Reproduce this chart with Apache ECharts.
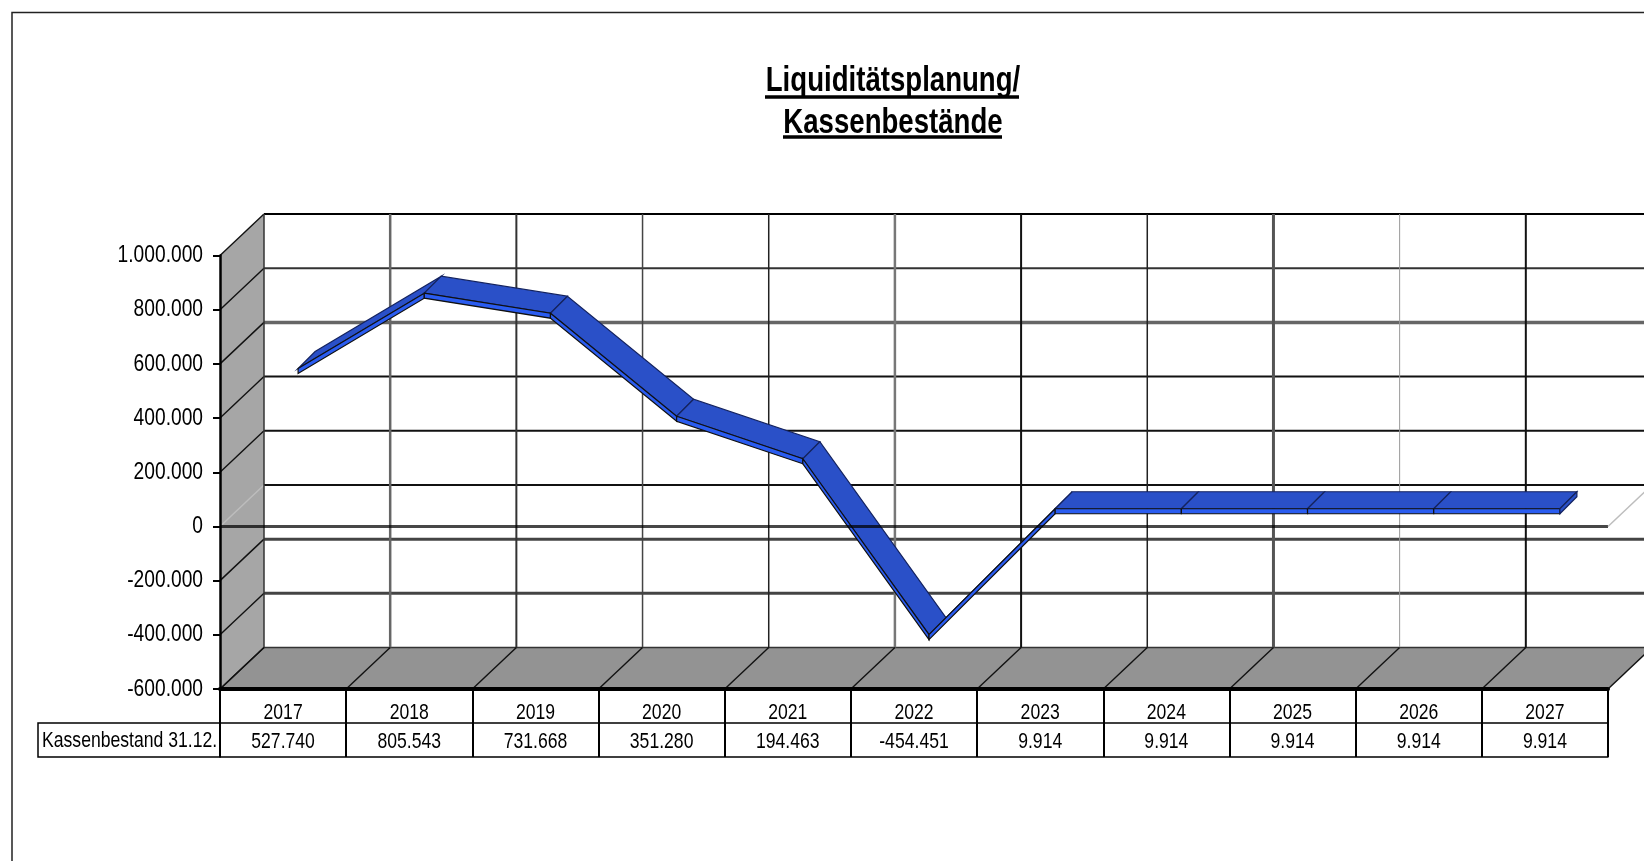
<!DOCTYPE html>
<html><head><meta charset="utf-8">
<style>html,body{margin:0;padding:0;background:#fff;overflow:hidden}#c{width:1644px;height:861px}</style>
<script src="https://cdn.jsdelivr.net/npm/echarts@6/dist/echarts.min.js"></script>
</head><body><div id="c"></div>
<script>
const years = ['2017','2018','2019','2020','2021','2022','2023','2024','2025','2026','2027'];
const kassenbestand = [527740,805543,731668,351280,194463,-454451,9914,9914,9914,9914,9914];
const yTicks = [1000000,800000,600000,400000,200000,0,-200000,-400000,-600000];
const rowLabel = 'Kassenbestand 31.12.';
const titleText = 'Liquiditätsplanung/\nKassenbestände';

const FONT = '"Liberation Sans",Arial,sans-serif';
const NARROW = 0.8;         // horizontal squeeze of all text
const DX = 44, DY = 41.5;   // wall depth in px
const RIB_F = 15, RIB_B = 32, RIB_T = 5;
// look of the back-wall lines, top to bottom / left to right
const hStyle = [['#000',2],['#333',2],['#666',3.5],['#111',2],['#111',2],['#111',2],['#444',3],['#444',3],['#333',1.5]];
const vStyle = [['#333',1.5],['#666',2.5],['#333',2],['#444',1.5],['#222',1.5],['#777',2.5],['#111',2],['#222',1.5],['#555',3],['#999',1],['#111',2]];

const fmt = v => String(v).replace(/\B(?=(\d{3})+(?!\d))/g,'.');
const shift = (p,dx,dy) => [p[0]+dx,p[1]+dy];
const back = p => shift(p,DX,-DY);
const ln = (a,b,stroke,lineWidth) => ({type:'line',silent:true,shape:{x1:a[0],y1:a[1],x2:b[0],y2:b[1]},style:{stroke,lineWidth,fill:null}});
const poly = (points,fill,stroke,lineWidth) => ({type:'polygon',silent:true,shape:{points},style:{fill,stroke,lineWidth}});
const yMin = yTicks[yTicks.length-1], yMax = yTicks[0];
const leftEdge = (api,v) => shift(api.coord([0,v]),-api.size([1,0])[0]/2,0);
const rightEdge = (api,v) => shift(api.coord([years.length-1,v]),api.size([1,0])[0]/2,0);

function renderWalls(params,api){
  const a=leftEdge(api,yMin), b=leftEdge(api,yMax), c=rightEdge(api,yMin);
  return {type:'group',children:[
    poly([a,b,back(b),back(a)],'#a6a6a6'),
    poly([a,c,back(c),back(a)],'#939393')
  ]};
}
function renderH(params,api){
  const i=params.dataIndex, v=yTicks[i], a=leftEdge(api,v), c=rightEdge(api,v), st=hStyle[i];
  return {type:'group',children:[
    ln(back(a),back(c),st[0],st[1]),
    ln(a,back(a),v===0?'#bdbdbd':'#111',v===0?1.5:1.4)
  ]};
}
function renderV(params,api){
  const i=params.dataIndex, band=api.size([1,0])[0], st=vStyle[i];
  const bottom=shift(api.coord([i,yMin]),-band/2,0), top=shift(api.coord([i,yMax]),-band/2,0);
  const ch=[
    ln(back(bottom),back(top),st[0],st[1]),
    ln(bottom,back(bottom),'#111',1.4)
  ];
  if(i===years.length-1){
    const r=rightEdge(api,yMin);
    ch.push(ln(r,back(r),'#111',1.4));
  }
  return {type:'group',children:ch};
}
function renderRibbon(params,api){
  const i=params.dataIndex, n=kassenbestand.length;
  const p=api.coord([i,kassenbestand[i]]);
  const f1=shift(p,RIB_F,-RIB_F), b1=shift(p,RIB_B,-RIB_B);
  const ch=[];
  if(i<n-1){
    const q=api.coord([i+1,kassenbestand[i+1]]);
    const f2=shift(q,RIB_F,-RIB_F), b2=shift(q,RIB_B,-RIB_B);
    ch.push(poly([f1,f2,b2,b1],'#2a50c8','#14235f',1.2));
    ch.push(poly([f1,f2,shift(f2,0,RIB_T),shift(f1,0,RIB_T)],'#2a5cf0','#101010',1.2));
  } else {
    ch.push(poly([f1,b1,shift(b1,0,RIB_T),shift(f1,0,RIB_T)],'#2a50c8','#14235f',1.2));
  }
  return {type:'group',children:ch};
}
function renderZero(params,api){
  const a=leftEdge(api,0), c=rightEdge(api,0);
  return {type:'group',children:[
    ln(a,c,'rgba(0,0,0,0.72)',3),
    ln(c,back(c),'#bdbdbd',1.5)
  ]};
}

const textBase = {fontFamily:FONT,color:'#000'};
const chart = echarts.init(document.getElementById('c'),null,{renderer:'canvas'});
chart.setOption({
  animation:false,
  backgroundColor:'#fff',
  title:{text:titleText,left:893,top:60,textAlign:'center',padding:0,
    textStyle:{fontFamily:FONT,fontWeight:'bold',fontSize:34.5,lineHeight:42,color:'#000'}},
  grid:{left:220,top:255.5,width:1388,height:433.5,containLabel:false},
  xAxis:[
    {type:'category',data:years,position:'bottom',z:6,
     axisLine:{onZero:false,lineStyle:{color:'#000',width:4}},
     axisTick:{show:true,interval:0,length:68,lineStyle:{color:'#000',width:2}},
     axisLabel:{interval:0,margin:13,fontSize:22,...textBase},splitLine:{show:false}},
    {type:'category',data:kassenbestand.map(fmt),position:'bottom',offset:34,z:6,
     axisLine:{onZero:false,lineStyle:{color:'#000',width:1.5}},axisTick:{show:false},
     axisLabel:{interval:0,margin:8,fontSize:22,...textBase},splitLine:{show:false}},
    {type:'category',data:years,position:'bottom',offset:68,z:6,
     axisLine:{onZero:false,lineStyle:{color:'#000',width:1.5}},axisTick:{show:false},
     axisLabel:{show:false},splitLine:{show:false}}
  ],
  yAxis:{type:'value',min:yMin,max:yMax,interval:200000,z:6,
    axisLine:{show:true,onZero:false,lineStyle:{color:'#000',width:2.5}},
    axisTick:{show:true,length:7,lineStyle:{color:'#000',width:2}},
    axisLabel:{margin:17,fontSize:24,padding:[4,0,0,0],formatter:v=>fmt(v),...textBase},
    splitLine:{show:false}},
  series:[
    {type:'custom',name:'Wände',z:1,silent:true,renderItem:renderWalls,data:[[0,0]],encode:{x:0,y:1}},
    {type:'custom',name:'Gitter Y',z:2,silent:true,renderItem:renderH,data:yTicks.map(v=>[0,v]),encode:{x:0,y:1}},
    {type:'custom',name:'Gitter X',z:2,silent:true,renderItem:renderV,data:years.map((y,i)=>[i,yMin]),encode:{x:0,y:1}},
    {type:'custom',name:'Kassenbestand 31.12.',z:3,silent:true,renderItem:renderRibbon,data:kassenbestand.map((v,i)=>[i,v]),encode:{x:0,y:1}},
    {type:'custom',name:'Nulllinie',z:4,silent:true,renderItem:renderZero,data:[[0,0]],encode:{x:0,y:1}}
  ],
  graphic:[
    {type:'rect',silent:true,z:0,shape:{x:12,y:12.5,width:1700,height:900},style:{fill:null,stroke:'#222',lineWidth:1.5}},
    {type:'line',silent:true,shape:{x1:765,y1:97,x2:1019,y2:97},style:{stroke:'#000',lineWidth:3.5}},
    {type:'line',silent:true,shape:{x1:783,y1:137,x2:1002,y2:137},style:{stroke:'#000',lineWidth:3.5}},
    {type:'rect',silent:true,shape:{x:38,y:723,width:182,height:34},style:{fill:'#fff',stroke:'#000',lineWidth:1.5}},
    {type:'text',silent:true,x:42,y:741,style:{text:rowLabel,fontFamily:FONT,fontSize:22,fill:'#000',textVerticalAlign:'middle',textAlign:'left'}}
  ]
});
// the reference uses a condensed Arial: squeeze every text element around its anchor
chart.getZr().storage.traverse(el => {
  if (el.type === 'text') { el.scaleX = NARROW; el.dirty && el.dirty(); }
});
chart.getZr().refresh();
</script></body></html>
